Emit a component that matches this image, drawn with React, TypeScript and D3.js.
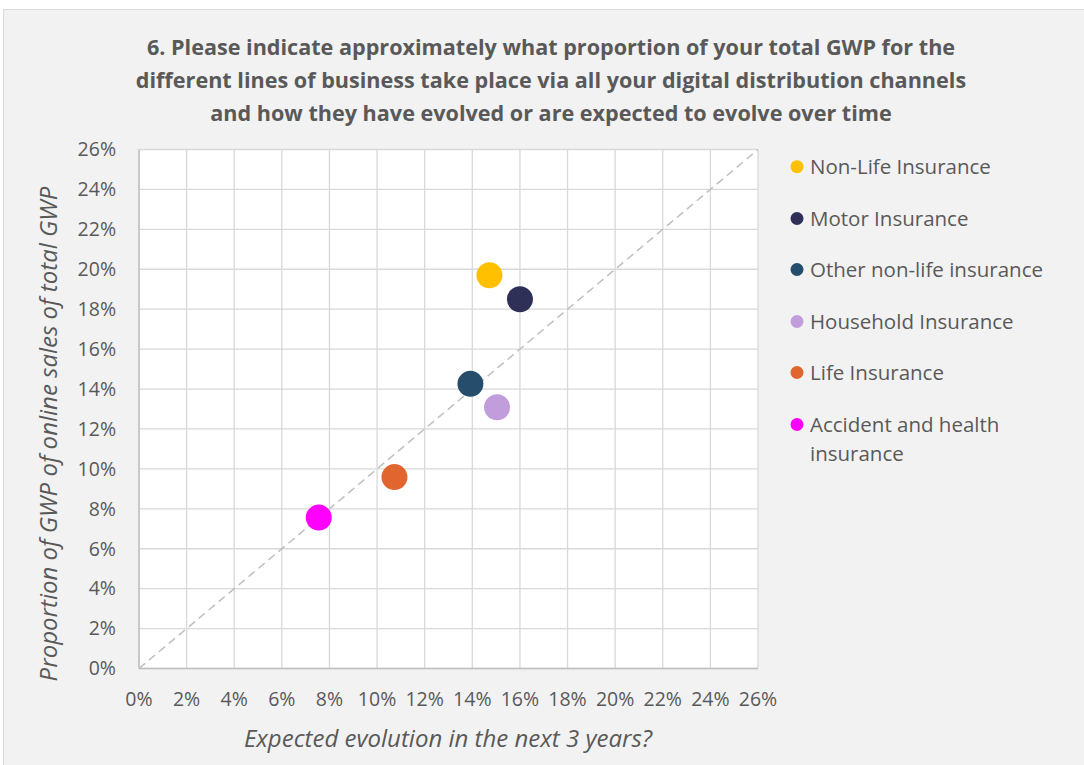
import React from "react";
import * as d3 from "d3";

const W = 1084;
const H = 765;

const titleLines = [
  "6. Please indicate approximately what proportion of your total GWP for the",
  "different lines of business take place via all your digital distribution channels",
  "and how they have evolved or are expected to evolve over time",
];
const seriesNames = [
  "Non-Life Insurance",
  "Motor Insurance",
  "Other non-life insurance",
  "Household Insurance",
  "Life Insurance",
  "Accident and health insurance",
];
const seriesColors = ["#FFC000", "#2E3058", "#264E6C", "#C29DDC", "#E0652F", "#FF00FF"];
const xValues = [0.1472, 0.16, 0.1392, 0.1504, 0.1073, 0.0755];
const yValues = [0.197, 0.185, 0.1426, 0.1309, 0.0959, 0.0756];
const tickValues = d3.range(0, 0.2601, 0.02);
const xTitle = "Expected evolution in the next 3 years?";
const yTitle = "Proportion of GWP of online sales of total GWP";

const font = "'Open Sans', sans-serif";
const textColor = "#595959";

export default function App() {
  const left = 139, right = 758, top = 149.5, bottom = 668.5;
  const x = d3.scaleLinear().domain([0, 0.26]).range([left, right]);
  const y = d3.scaleLinear().domain([0, 0.26]).range([bottom, top]);
  const fmt = d3.format(".0%");
  const legendRows = [166.7, 218.5, 269.5, 321.5, 372.5, 424.5];

  return (
    <svg width={W} height={H} style={{ position: "absolute", left: 0, top: 0 }} fontFamily={font}>
      <rect x={0} y={0} width={W} height={H} fill="#ffffff" />
      <rect x={3.5} y={9.5} width={W + 10} height={H + 10} fill="#F2F2F2" stroke="#D9D9D9" strokeWidth={1} />
      {titleLines.map((t, i) => (
        <text key={i} x={551} y={55 + i * 33} textAnchor="middle" fontSize={21.6} fontWeight={700} fill={textColor}>
          {t}
        </text>
      ))}
      <rect x={left} y={top} width={right - left} height={bottom - top} fill="#ffffff" />
      {tickValues.map((v, i) => (
        <g key={i}>
          <line x1={x(v)} x2={x(v)} y1={top} y2={bottom} stroke="#D9D9D9" strokeWidth={1.3} />
          <line x1={left} x2={right} y1={y(v)} y2={y(v)} stroke="#D9D9D9" strokeWidth={1.3} />
          <text x={116} y={y(v)} dy="0.35em" textAnchor="end" fontSize={19.5} fill={textColor}>
            {fmt(v)}
          </text>
          <text x={x(v)} y={706} textAnchor="middle" fontSize={19.5} fill={textColor}>
            {fmt(v)}
          </text>
        </g>
      ))}
      <line x1={left} x2={left} y1={top} y2={bottom} stroke="#BFBFBF" strokeWidth={1.5} />
      <line x1={left} x2={right} y1={bottom} y2={bottom} stroke="#BFBFBF" strokeWidth={1.5} />
      <line x1={x(0)} y1={y(0)} x2={x(0.26)} y2={y(0.26)} stroke="#BFBFBF" strokeWidth={1.5} strokeDasharray="8,5" />
      {seriesNames.map((n, i) => (
        <circle key={n} cx={x(xValues[i])} cy={y(yValues[i])} r={13} fill={seriesColors[i]} />
      ))}
      <text x={448} y={746.5} textAnchor="middle" fontSize={24} fontStyle="italic" fill={textColor}>
        {xTitle}
      </text>
      <text transform={`translate(57,434) rotate(-90)`} textAnchor="middle" fontSize={24} fontStyle="italic" fill={textColor}>
        {yTitle}
      </text>
      {seriesNames.map((n, i) => {
        const cy = legendRows[i];
        const lines = i === 5 ? ["Accident and health", "insurance"] : [n];
        return (
          <g key={n}>
            <circle cx={797} cy={cy} r={6.5} fill={seriesColors[i]} />
            {lines.map((l, j) => (
              <text key={j} x={810} y={cy + j * 29.5} dy="0.35em" fontSize={20.5} fill={textColor}>
                {l}
              </text>
            ))}
          </g>
        );
      })}
    </svg>
  );
}
